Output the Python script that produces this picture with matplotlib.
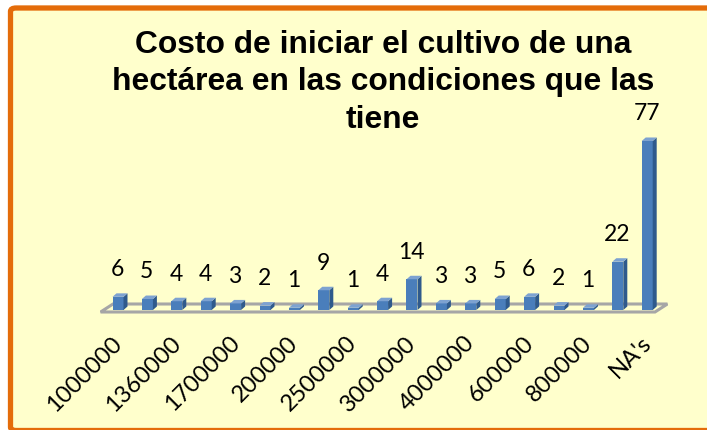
import matplotlib
matplotlib.use("Agg")
import matplotlib.pyplot as plt
import matplotlib.transforms as mtransforms
from matplotlib.patches import Polygon, FancyBboxPatch

categories = ["1000000", "1200000", "1360000", "1500000", "1700000", "1800000",
              "200000", "2000000", "2500000", "280000", "3000000", "350000",
              "4000000", "500000", "600000", "700000", "800000", "900000", "NA's"]
values = [6, 5, 4, 4, 3, 2, 1, 9, 1, 4, 14, 3, 3, 5, 6, 2, 1, 22, 77]
title_lines = ["Costo de iniciar el cultivo de una",
               "hectárea en las condiciones que las",
               "tiene"]

W, H = 707, 430
fig = plt.figure(figsize=(W / 100, H / 100), dpi=100)
fig.patch.set_facecolor("white")

# chart area frame
frame = FancyBboxPatch((10.5 / W, -0.5 / H), (W + 20) / W, (H - 7.5) / H,
                       boxstyle="round,pad=0,rounding_size=0.008",
                       transform=fig.transFigure, facecolor="#FFFFCC",
                       edgecolor="#E46C0A", linewidth=3.8, zorder=0)
fig.patches.append(frame)

ax = fig.add_axes([100 / W, (H - 320) / H, 568 / W, 220 / H])
ax.set_zorder(2)
ax.set_facecolor("none")
px_per_x = 29.4
px_per_y = 2.195
x0 = 118
xlo = (100 - x0) / px_per_x
xhi = (668 - x0) / px_per_x
ax.set_xlim(xlo, xhi)
ax.set_ylim(-(320 - 310) / px_per_y, (310 - 100) / px_per_y)
for s in ax.spines.values():
    s.set_visible(False)

# floor
ddx = 13 / px_per_x
ddy = 8 / px_per_y
fy = -2 / px_per_y
floor = Polygon([(xlo + 0.02, fy), (xhi - ddx, fy), (xhi - 0.02, fy + ddy),
                 (xlo + ddx, fy + ddy)], closed=True, facecolor="none",
                edgecolor="#A6A6A6", linewidth=2.2, zorder=1)
ax.add_patch(floor)

bw = 11 / px_per_x
dx = 4 / px_per_x
dy = 3.5 / px_per_y
front_c = "#4A7EBB"
side_c = "#2F5A8C"
top_c = "#7DA2D1"
xs = list(range(len(values)))
bars = ax.bar(xs, values, width=bw, color=front_c, zorder=3, linewidth=0)
for x, v in zip(xs, values):
    l, r = x - bw / 2, x + bw / 2
    ax.add_patch(Polygon([(r, 0), (r + dx, dy), (r + dx, v + dy), (r, v)],
                         closed=True, facecolor=side_c, edgecolor="none", zorder=3))
    ax.add_patch(Polygon([(l, v), (r, v), (r + dx, v + dy), (l + dx, v + dy)],
                         closed=True, facecolor=top_c, edgecolor="none", zorder=3))
    ax.annotate(str(v), (x, v), xytext=(-0.5, 19.5), textcoords="offset points",
                ha="center", va="center", fontsize=16.5, family="Lato", zorder=4)

ax.set_yticks([])
ax.set_xticks(xs[::2])
ax.set_xticklabels(categories[::2], rotation=45, ha="right", va="top",
                   rotation_mode="anchor", fontsize=17, family="Lato")
ax.tick_params(axis="x", length=0, pad=9)
offset = mtransforms.ScaledTranslation(-7 / 100, 0, fig.dpi_scale_trans)
for lab in ax.get_xticklabels():
    lab.set_transform(lab.get_transform() + offset)

baselines = [53, 90, 128]
for line, b in zip(title_lines, baselines):
    fig.text(383 / W, 1 - b / H, line, ha="center", va="baseline", fontsize=22.9,
             fontweight="bold", family="Liberation Sans")

fig.savefig("out.png", dpi=100, facecolor=fig.get_facecolor())
